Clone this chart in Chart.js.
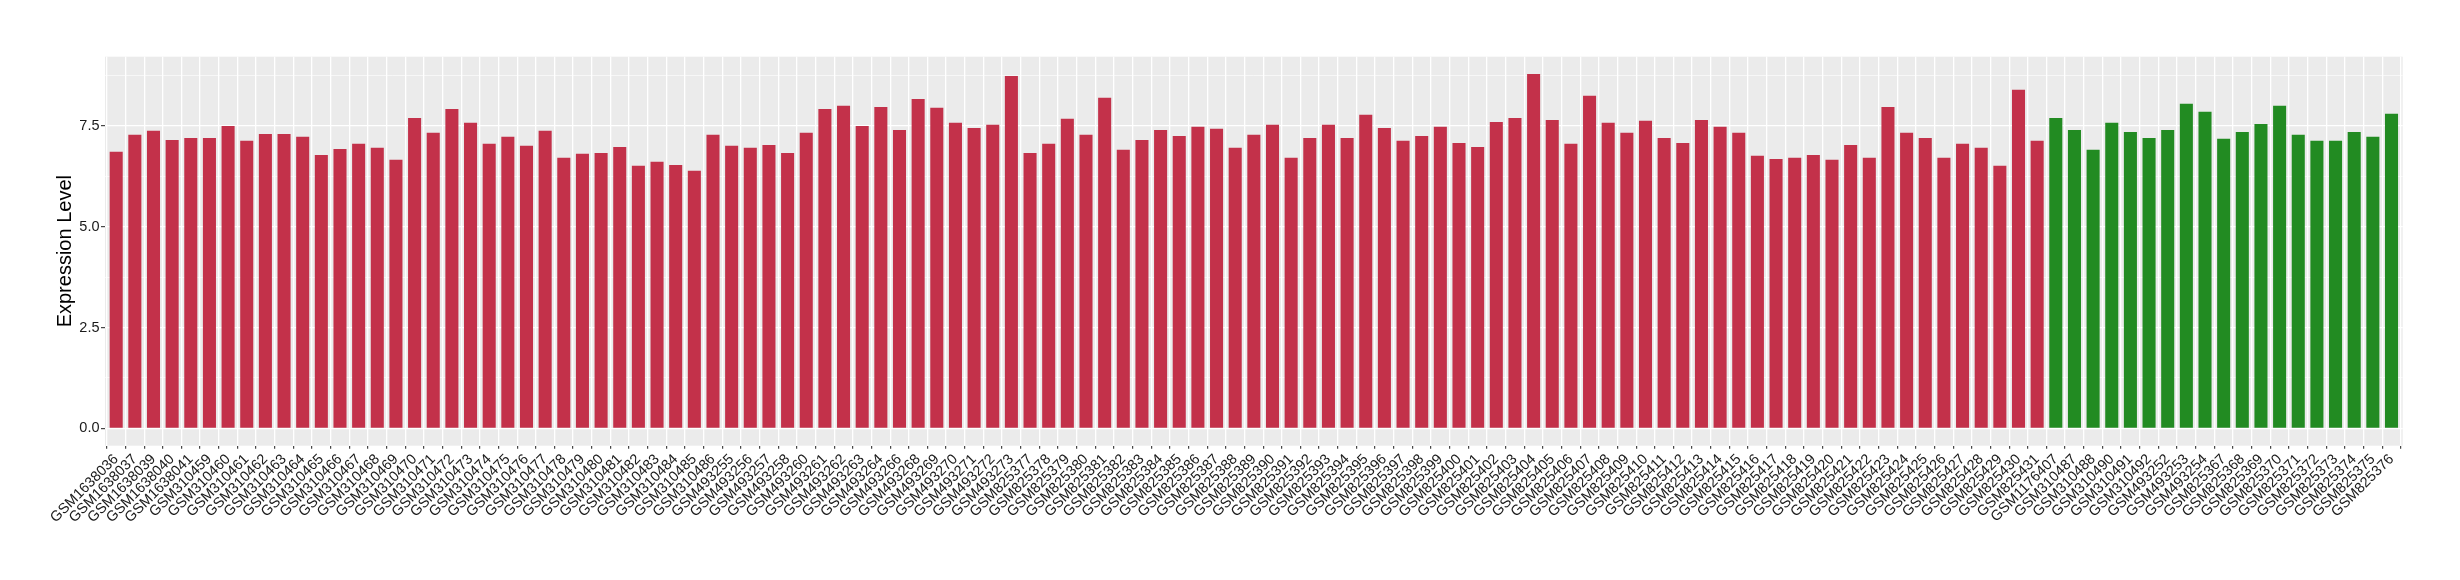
<!DOCTYPE html>
<html>
<head>
<meta charset="utf-8">
<script src="https://cdn.jsdelivr.net/npm/chart.js@4/dist/chart.umd.min.js"></script>
<style>
  html, body { margin: 0; padding: 0; background: #fff; }
  canvas { display: block; }
</style>
</head>
<body>
<canvas id="myChart" width="2460" height="580"></canvas>
<script>
// samples shown in red (first group)
const redSamples = [
    'GSM1638036', 'GSM1638037', 'GSM1638039', 'GSM1638040', 'GSM1638041',
    'GSM310459', 'GSM310460', 'GSM310461', 'GSM310462', 'GSM310463', 'GSM310464',
    'GSM310465', 'GSM310466', 'GSM310467', 'GSM310468', 'GSM310469', 'GSM310470',
    'GSM310471', 'GSM310472', 'GSM310473', 'GSM310474', 'GSM310475', 'GSM310476',
    'GSM310477', 'GSM310478', 'GSM310479', 'GSM310480', 'GSM310481', 'GSM310482',
    'GSM310483', 'GSM310484', 'GSM310485', 'GSM310486',
    'GSM493255', 'GSM493256', 'GSM493257', 'GSM493258', 'GSM493260', 'GSM493261',
    'GSM493262', 'GSM493263', 'GSM493264', 'GSM493266', 'GSM493268', 'GSM493269',
    'GSM493270', 'GSM493271', 'GSM493272', 'GSM493273',
    'GSM825377', 'GSM825378', 'GSM825379', 'GSM825380', 'GSM825381', 'GSM825382',
    'GSM825383', 'GSM825384', 'GSM825385', 'GSM825386', 'GSM825387', 'GSM825388',
    'GSM825389', 'GSM825390', 'GSM825391', 'GSM825392', 'GSM825393', 'GSM825394',
    'GSM825395', 'GSM825396', 'GSM825397', 'GSM825398', 'GSM825399', 'GSM825400',
    'GSM825401', 'GSM825402', 'GSM825403', 'GSM825404', 'GSM825405', 'GSM825406',
    'GSM825407', 'GSM825408', 'GSM825409', 'GSM825410', 'GSM825411', 'GSM825412',
    'GSM825413', 'GSM825414', 'GSM825415', 'GSM825416', 'GSM825417', 'GSM825418',
    'GSM825419', 'GSM825420', 'GSM825421', 'GSM825422', 'GSM825423', 'GSM825424',
    'GSM825425', 'GSM825426', 'GSM825427', 'GSM825428', 'GSM825429', 'GSM825430',
    'GSM825431'
]
const redValues = [
    6.86, 7.28, 7.38, 7.15, 7.20,
    7.20, 7.50, 7.13, 7.30, 7.30, 7.23,
    6.78, 6.93, 7.06, 6.96, 6.66, 7.70,
    7.33, 7.92, 7.58, 7.06, 7.23, 7.01,
    7.38, 6.71, 6.81, 6.83, 6.98, 6.51,
    6.61, 6.53, 6.39, 7.28,
    7.01, 6.96, 7.03, 6.83, 7.33, 7.92,
    8.00, 7.50, 7.97, 7.40, 8.17, 7.95,
    7.58, 7.45, 7.53, 8.74,
    6.83, 7.06, 7.68, 7.28, 8.20, 6.91,
    7.15, 7.40, 7.25, 7.48, 7.43, 6.96,
    7.28, 7.53, 6.71, 7.20, 7.53, 7.20,
    7.78, 7.45, 7.13, 7.25, 7.48, 7.08,
    6.98, 7.60, 7.70, 8.79, 7.65, 7.06,
    8.25, 7.58, 7.33, 7.63, 7.20, 7.08,
    7.65, 7.48, 7.33, 6.76, 6.68, 6.71,
    6.78, 6.66, 7.03, 6.71, 7.97, 7.33,
    7.20, 6.71, 7.06, 6.96, 6.51, 8.40,
    7.13
]

// samples shown in green (second group)
const greenSamples = [
    'GSM1176407', 'GSM310487', 'GSM310488', 'GSM310490', 'GSM310491', 'GSM310492',
    'GSM493252', 'GSM493253', 'GSM493254',
    'GSM825367', 'GSM825368', 'GSM825369', 'GSM825370', 'GSM825371', 'GSM825372',
    'GSM825373', 'GSM825374', 'GSM825375', 'GSM825376'
]
const greenValues = [
    7.70, 7.40, 6.91, 7.58, 7.35, 7.20,
    7.40, 8.05, 7.85,
    7.18, 7.35, 7.55, 8.00, 7.28, 7.13,
    7.13, 7.35, 7.23, 7.80
]

const yTicks = [0, 2.5, 5, 7.5]
const yTitle = 'Expression Level'

const allSamples = redSamples.concat(greenSamples)
const toPoints = (vals, start) => vals.map((v, i) => ({ x: start + i + 1, y: v }))

const panelBg = {
    id: 'panelBg',
    beforeDraw(chart) {
        const { ctx, chartArea: a } = chart
        ctx.save()
        ctx.fillStyle = '#EBEBEB'
        ctx.fillRect(a.left, a.top, a.right - a.left, a.bottom - a.top)
        ctx.restore()
    }
}

const isMajor = v => yTicks.some(t => Math.abs(t - v) < 1e-6)
const font = 'Liberation Sans, Arial, Helvetica, sans-serif'

const ctx = document.getElementById('myChart').getContext('2d')
const myChart = new Chart(ctx, {
    type: 'bar',
    data: {
        datasets: [
            {
                label: 'red',
                data: toPoints(redValues, 0),
                backgroundColor: '#C3314A',
                grouped: false,
                barPercentage: 0.7,
                categoryPercentage: 1
            },
            {
                label: 'green',
                data: toPoints(greenValues, redValues.length),
                backgroundColor: '#228B22',
                grouped: false,
                barPercentage: 0.7,
                categoryPercentage: 1
            }
        ]
    },
    options: {
        responsive: false,
        devicePixelRatio: 1,
        animation: false,
        layout: { padding: { top: 56.7, right: 57.3, bottom: 0, left: 0 } },
        plugins: {
            legend: { display: false },
            tooltip: { enabled: false }
        },
        scales: {
            x: {
                type: 'linear',
                min: 0.4,
                max: allSamples.length + 0.6,
                offset: false,
                afterFit: s => { s.height = 134.3 },
                border: { display: false },
                grid: {
                    color: '#FFFFFF',
                    lineWidth: 1.3,
                    tickColor: '#333333',
                    tickLength: 3,
                    tickWidth: 1.1
                },
                ticks: {
                    stepSize: 1,
                    includeBounds: false,
                    autoSkip: false,
                    maxRotation: 45,
                    minRotation: 45,
                    padding: 2,
                    color: '#1a1a1a',
                    font: { family: font, size: 14.5 },
                    callback: v => allSamples[v - 1] ?? ''
                }
            },
            y: {
                min: -0.432,
                max: 9.218,
                afterFit: s => { s.width = 105 },
                border: { display: false },
                grid: {
                    color: '#FFFFFF',
                    lineWidth: c => (isMajor(c.tick.value) ? 1.3 : 0.6),
                    tickColor: c => (isMajor(c.tick.value) ? '#333333' : 'rgba(0,0,0,0)'),
                    tickLength: 4,
                    tickWidth: 1.1
                },
                ticks: {
                    stepSize: 1.25,
                    includeBounds: false,
                    padding: 1.5,
                    color: '#1a1a1a',
                    font: { family: font, size: 14.5 },
                    callback: v => (isMajor(v) ? v.toFixed(1) : '')
                },
                title: {
                    display: true,
                    text: yTitle,
                    color: '#000000',
                    font: { family: font, size: 20 },
                    padding: { top: 53, bottom: 0 }
                }
            }
        }
    },
    plugins: [panelBg]
})
</script>
</body>
</html>
